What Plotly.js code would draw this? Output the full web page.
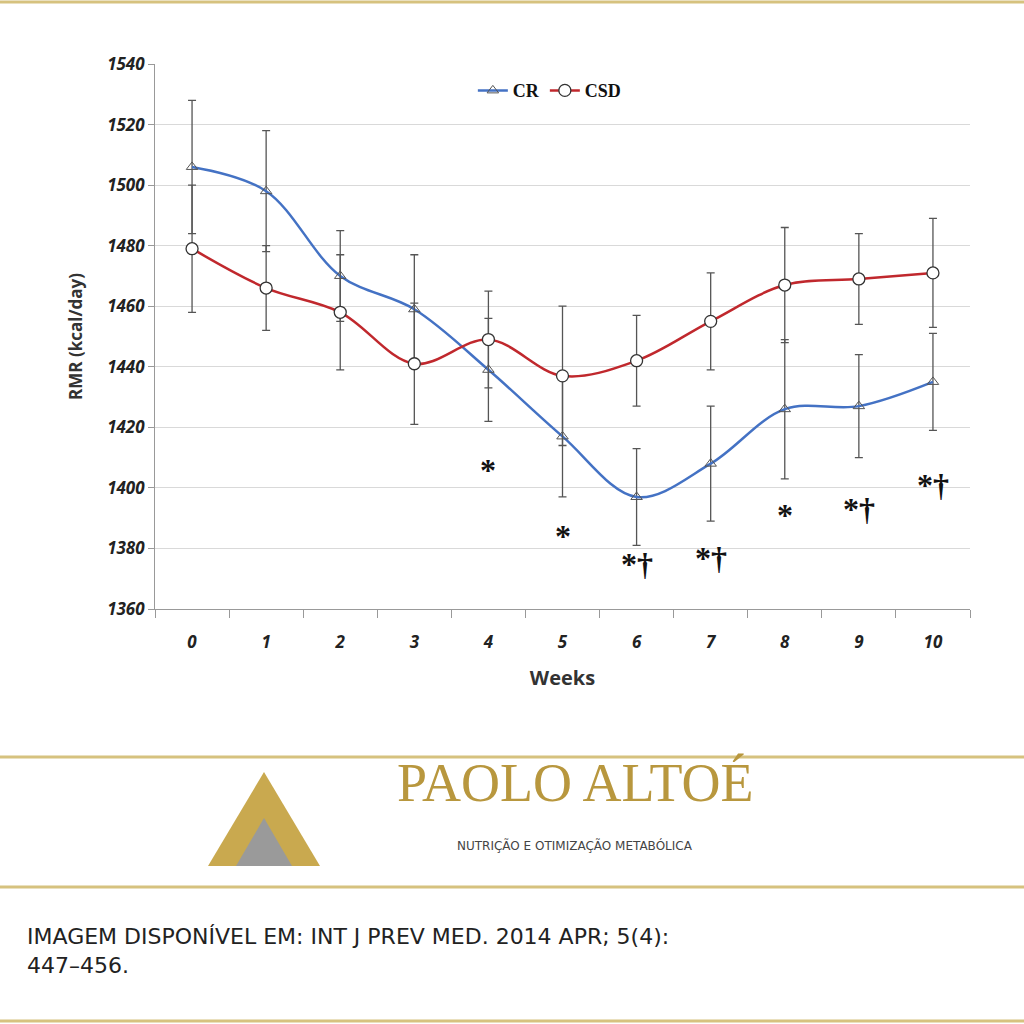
<!DOCTYPE html>
<html><head><script src="https://cdn.plot.ly/plotly-3.0.1.min.js"></script>
<style>body{margin:0;background:#fff}</style></head>
<body><div id="chart" style="width:1024px;height:1024px"></div>
<script>
// weeks and RMR values
const weeks = ["0","1","2","3","4","5","6","7","8","9","10"];
const crMean = [1506, 1498, 1470, 1459, 1439, 1417, 1397, 1408, 1426, 1427, 1435];
const crSD   = [22, 20, 15, 18, 17, 20, 16, 19, 23, 17, 16];
const csdMean = [1479, 1466, 1458, 1441, 1449, 1437, 1442, 1455, 1467, 1469, 1471];
const csdSD   = [21, 14, 19, 20, 16, 23, 15, 16, 19, 15, 18];
const marks = ["", "", "", "", "*", "*", "*†", "*†", "*", "*†", "*†"];
const markY = [0, 0, 0, 0, 1406, 1384, 1375, 1377, 1391, 1393, 1401];

// pixel -> paper helpers for the decorations outside the plot
const px = p => (p - 155) / 815;
const py = p => (609 - p) / 545;

const ebar = sd => ({type: "data", array: sd, visible: true, color: "#555", thickness: 1.3, width: 4});

let cr = {
    x: weeks, y: crMean, name: "CR", type: "scatter", mode: "lines+markers",
    line: {color: "#4472c4", width: 2.5, shape: "spline"},
    marker: {symbol: "triangle-up-open", size: 10, color: "#555", line: {width: 1}},
    error_y: ebar(crSD)
};
let csd = {
    x: weeks, y: csdMean, name: "CSD", type: "scatter", mode: "lines+markers",
    line: {color: "#c0282d", width: 2.5, shape: "spline"},
    marker: {symbol: "circle", size: 12, color: "#fff", line: {width: 1.3, color: "#333"}},
    error_y: ebar(csdSD)
};

let annotations = [];
marks.forEach((m, i) => {
    if (m) annotations.push({x: weeks[i], y: markY[i], text: "<b>" + m + "</b>", showarrow: false,
        font: {family: "Liberation Serif", size: 32, color: "#111"}});
});
annotations.push(
    {xref: "paper", yref: "paper", x: px(575), y: py(815), text: "PAOLO ALTOÉ", showarrow: false,
     font: {family: "Liberation Serif", size: 54, color: "#b8973e"}},
    {xref: "paper", yref: "paper", x: px(575), y: py(855), text: "NUTRIÇÃO E OTIMIZAÇÃO METABÓLICA", showarrow: false,
     font: {family: "DejaVu Sans", size: 12, color: "#444"}},
    {xref: "paper", yref: "paper", x: px(25), y: py(922), xanchor: "left", yanchor: "top", align: "left", showarrow: false,
     text: "IMAGEM DISPONÍVEL EM: INT J PREV MED. 2014 APR; 5(4):<br>447–456.",
     font: {family: "DejaVu Sans", size: 22, color: "#222"}}
);

const gold = "#d6c27f";
const hline = p => ({type: "line", xref: "paper", yref: "paper", x0: px(0), x1: px(1024), y0: py(p), y1: py(p),
    line: {color: gold, width: 3}});
let shapes = [hline(2), hline(757), hline(887), hline(1021),
    {type: "path", xref: "paper", yref: "paper",
     path: `M ${px(264)} ${py(772)} L ${px(320)} ${py(866)} L ${px(208)} ${py(866)} Z`,
     fillcolor: "#c9a94f", line: {width: 0}},
    {type: "path", xref: "paper", yref: "paper",
     path: `M ${px(264)} ${py(818)} L ${px(292)} ${py(866)} L ${px(236)} ${py(866)} Z`,
     fillcolor: "#9a9a9a", line: {width: 0}}
];

let layout = {
    width: 1024, height: 1024,
    margin: {l: 155, r: 54, t: 64, b: 415},
    paper_bgcolor: "#fff", plot_bgcolor: "#fff",
    showlegend: true,
    legend: {orientation: "h", x: 0.39, y: 0.985, xanchor: "left", yanchor: "top",
             font: {family: "Liberation Serif", size: 18, color: "#111", weight: "bold"}},
    xaxis: {type: "category", range: [-0.5, 10.5], showgrid: false,
            showline: true, linecolor: "#999", ticks: "outside", ticklen: 8, tickcolor: "#999",
            tickson: "boundaries",
            tickfont: {family: "Open Sans", size: 17, color: "#222", weight: "bold", style: "italic"},
            ticklabelstandoff: 18,
            title: {text: "Weeks", font: {family: "Open Sans", size: 20, color: "#333", weight: "bold"}, standoff: 18}},
    yaxis: {range: [1360, 1540], dtick: 20, gridcolor: "#d9d9d9", showline: true, linecolor: "#999",
            ticks: "outside", ticklen: 6, tickcolor: "#999", zeroline: false,
            tickfont: {family: "Open Sans", size: 17, color: "#222", weight: "bold", style: "italic"},
            title: {text: "RMR (kcal/day)", font: {family: "Open Sans", size: 17, color: "#333", weight: "bold"}, standoff: 20}},
    annotations: annotations,
    shapes: shapes
};

Plotly.newPlot("chart", [cr, csd], layout, {displayModeBar: false});
</script></body></html>
